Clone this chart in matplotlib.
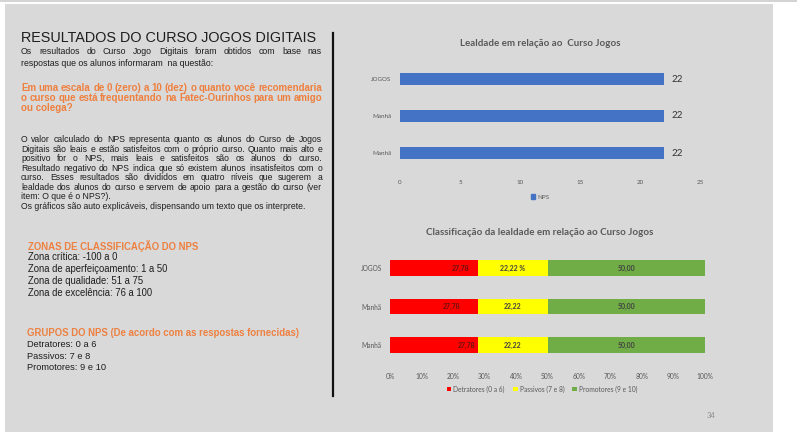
import numpy as np
import matplotlib
matplotlib.use('Agg')
import matplotlib.pyplot as plt
from matplotlib.patches import Rectangle, Patch

W, H = 800, 432

# Chart data
categories = ['JOGOS', 'Manhã', 'Manhã']
nps = [22, 22, 22]
detratores = [27.78, 27.78, 27.78]
passivos = [22.22, 22.22, 22.22]
promotores = [50.00, 50.00, 50.00]
passivos_suffix = [' %', '', '']
nps_ticks = [0, 5, 10, 15, 20, 25]
pct_ticks = [0, 10, 20, 30, 40, 50, 60, 70, 80, 90, 100]

ORANGE = '#ee8040'
GRAY = '#595959'
TXT = '#1e1e1e'
LEFT = ['Liberation Sans', 'DejaVu Sans']
CHART = ['Lato', 'DejaVu Sans']

fig = plt.figure(figsize=(W / 100, H / 100), dpi=100)
fig.patch.set_facecolor('white')

def fx(x):
    return x / W

def fy(y):
    return 1 - y / H

# slide background, top rule and divider
fig.patches.append(Rectangle((fx(5), 0), fx(768), fy(4), transform=fig.transFigure,
                             facecolor='#d9d9d9', edgecolor='none', zorder=-10))
fig.patches.append(Rectangle((0, fy(1.5)), fx(797), 1.2 / H, transform=fig.transFigure,
                             facecolor='#d4d4d4', edgecolor='none', zorder=-10))
fig.lines.append(plt.Line2D([fx(333), fx(333)], [fy(33), fy(396)], transform=fig.transFigure,
                            color='#111111', lw=1.6))

renderer = fig.canvas.get_renderer()

def text_block(lines, x0, x1, y0, dy, justify, fontsize, **kw):
    # draws lines of text on a common baseline, spreading the words of
    # justified lines across x0..x1
    shift = 0.36 * fontsize * 100 / 72
    for i, (line, just) in enumerate(zip(lines, justify)):
        y = fy(y0 + i * dy + shift)
        if not just:
            fig.text(fx(x0), y, line, va='baseline', ha='left', fontsize=fontsize, **kw)
            continue
        words = line.split()
        items = [fig.text(0, y, w, va='baseline', ha='left', fontsize=fontsize, **kw)
                 for w in words]
        widths = [t.get_window_extent(renderer).width for t in items]
        gap = (x1 - x0 - sum(widths)) / (len(words) - 1)
        x = x0
        for t, w in zip(items, widths):
            t.set_x(fx(x))
            x += w + gap

fig.text(fx(21), fy(38), 'RESULTADOS DO CURSO JOGOS DIGITAIS', family=LEFT,
         fontsize=10.4, color=TXT, va='center')

text_block(['Os resultados do Curso Jogo Digitais foram obtidos com base nas',
            'respostas que os alunos informaram  na questão:'],
           21, 322, 51, 11.5, [True, False], 6.3, family=LEFT, color=TXT)

text_block(['Em uma escala de 0 (zero) a 10 (dez) o quanto você recomendaria',
            'o curso que está frequentando na Fatec-Ourinhos para um amigo',
            'ou colega?'],
           21, 322, 87, 10.2, [True, True, False], 7.05, family=LEFT,
           fontweight='bold', color=ORANGE)

text_block(['O valor calculado do NPS representa quanto os alunos do Curso de Jogos',
            'Digitais são leais e estão satisfeitos com o próprio curso. Quanto mais alto e',
            'positivo for o NPS, mais leais e satisfeitos são os alunos do curso.',
            'Resultado negativo do NPS indica que só existem alunos insatisfeitos com o',
            'curso. Esses resultados são divididos em quatro níveis que sugerem a',
            'lealdade dos alunos do curso e servem de apoio para a gestão do curso (ver',
            'item: O que é o NPS?).',
            'Os gráficos são auto explicáveis, dispensando um texto que os interprete.'],
           21, 322, 139, 9.5, [True] * 6 + [False, False], 6.2, family=LEFT, color=TXT)

fig.text(fx(28), fy(246), 'ZONAS DE CLASSIFICAÇÃO DO NPS', family=LEFT, fontsize=6.95,
         fontweight='bold', color=ORANGE, va='center')
text_block(['Zona crítica: -100 a 0', 'Zona de aperfeiçoamento: 1 a 50',
            'Zona de qualidade: 51 a 75', 'Zona de excelência: 76 a 100'],
           28, 300, 257, 12, [False] * 4, 6.85, family=LEFT, color=TXT)

fig.text(fx(27), fy(333), 'GRUPOS DO NPS (De acordo com as respostas fornecidas)', family=LEFT,
         fontsize=6.9, fontweight='bold', color=ORANGE, va='center')
text_block(['Detratores: 0 a 6', 'Passivos: 7 e 8', 'Promotores: 9 e 10'],
           27, 300, 344, 11.5, [False] * 3, 6.7, family=LEFT, color=TXT)

fig.text(fx(711), fy(416), '34', family=CHART, fontsize=5.5, color='#8c8c8c',
         ha='center', va='center')

# NPS bar chart
ax1 = fig.add_axes([fx(400), fy(171.5), fx(300), 111 / H])
ax1.set_facecolor('none')
ypos = np.arange(len(categories))[::-1]
bars = ax1.barh(ypos, nps, height=0.35, color='#4472c4', label='NPS')
for b, v in zip(bars, nps):
    ax1.text(v + 0.6, b.get_y() + b.get_height() / 2, str(v), va='center', ha='left',
             family=CHART, fontsize=7, color='#333333')
ax1.set_xlim(0, 25)
ax1.set_ylim(-0.5, 2.5)
ax1.set_xticks(nps_ticks)
ax1.set_yticks(ypos)
ax1.set_yticklabels(categories)
ax1.tick_params(length=0, labelsize=4.5, labelcolor=GRAY, pad=6)
for lab in ax1.get_xticklabels() + ax1.get_yticklabels():
    lab.set_family(CHART)
for s in ax1.spines.values():
    s.set_visible(False)
fig.text(fx(540), fy(44), 'Lealdade em relação ao  Curso Jogos', family=CHART, fontsize=7,
         fontweight='bold', color=GRAY, ha='center', va='center')
fig.legend(handles=[Patch(color='#4472c4', label='NPS')], loc='center',
           bbox_to_anchor=(fx(540), fy(197)), frameon=False,
           handlelength=0.7, handleheight=0.7, handletextpad=0.3, labelcolor=GRAY,
           prop={'family': CHART, 'size': 4.5})

# stacked classification chart
ax2 = fig.add_axes([fx(390), fy(364.25), fx(315), 115.5 / H])
ax2.set_facecolor('none')
det = np.array(detratores)
pas = np.array(passivos)
pro = np.array(promotores)
ax2.barh(ypos, det, height=0.39, color='#ff0000', label='Detratores (0 a 6)')
ax2.barh(ypos, pas, left=det, height=0.39, color='#ffff00', label='Passivos (7 e 8)')
ax2.barh(ypos, pro, left=det + pas, height=0.39, color='#70ad47', label='Promotores (9 e 10)')
red_label_shift = [5.3, 8.1, 3.4]

def fmt(v):
    return f'{v:.2f}'.replace('.', ',')

for y, d, p, q, sh, suf in zip(ypos, det, pas, pro, red_label_shift, passivos_suffix):
    kw = dict(va='center', ha='center', family=CHART, fontsize=5, fontweight='bold')
    ax2.text(d - sh, y, fmt(d), color='#6b1010', **kw)
    ax2.text(d + p / 2, y, fmt(p) + suf, color='#404040', **kw)
    ax2.text(d + p + q / 2, y, fmt(q), color='#404040', **kw)
ax2.set_xlim(0, 100)
ax2.set_ylim(-0.5, 2.5)
ax2.set_xticks(pct_ticks)
ax2.set_xticklabels([f'{t}%' for t in pct_ticks])
ax2.set_yticks(ypos)
ax2.set_yticklabels(categories)
ax2.tick_params(length=0, labelsize=4.8, labelcolor=GRAY, pad=6)
for lab in ax2.get_xticklabels() + ax2.get_yticklabels():
    lab.set_family(CHART)
for s in ax2.spines.values():
    s.set_visible(False)
fig.text(fx(540), fy(232), 'Classificação da lealdade em relação ao Curso Jogos', family=CHART,
         fontsize=7, fontweight='bold', color=GRAY, ha='center', va='center')
h, l = ax2.get_legend_handles_labels()
fig.legend(h, l, loc='center', bbox_to_anchor=(fx(542), fy(389)), ncol=3, frameon=False,
           handlelength=0.7, handleheight=0.7, handletextpad=0.3, columnspacing=1.2,
           labelcolor=GRAY, prop={'family': CHART, 'size': 4.8})

fig.savefig('out.png', dpi=100, facecolor=fig.get_facecolor())
